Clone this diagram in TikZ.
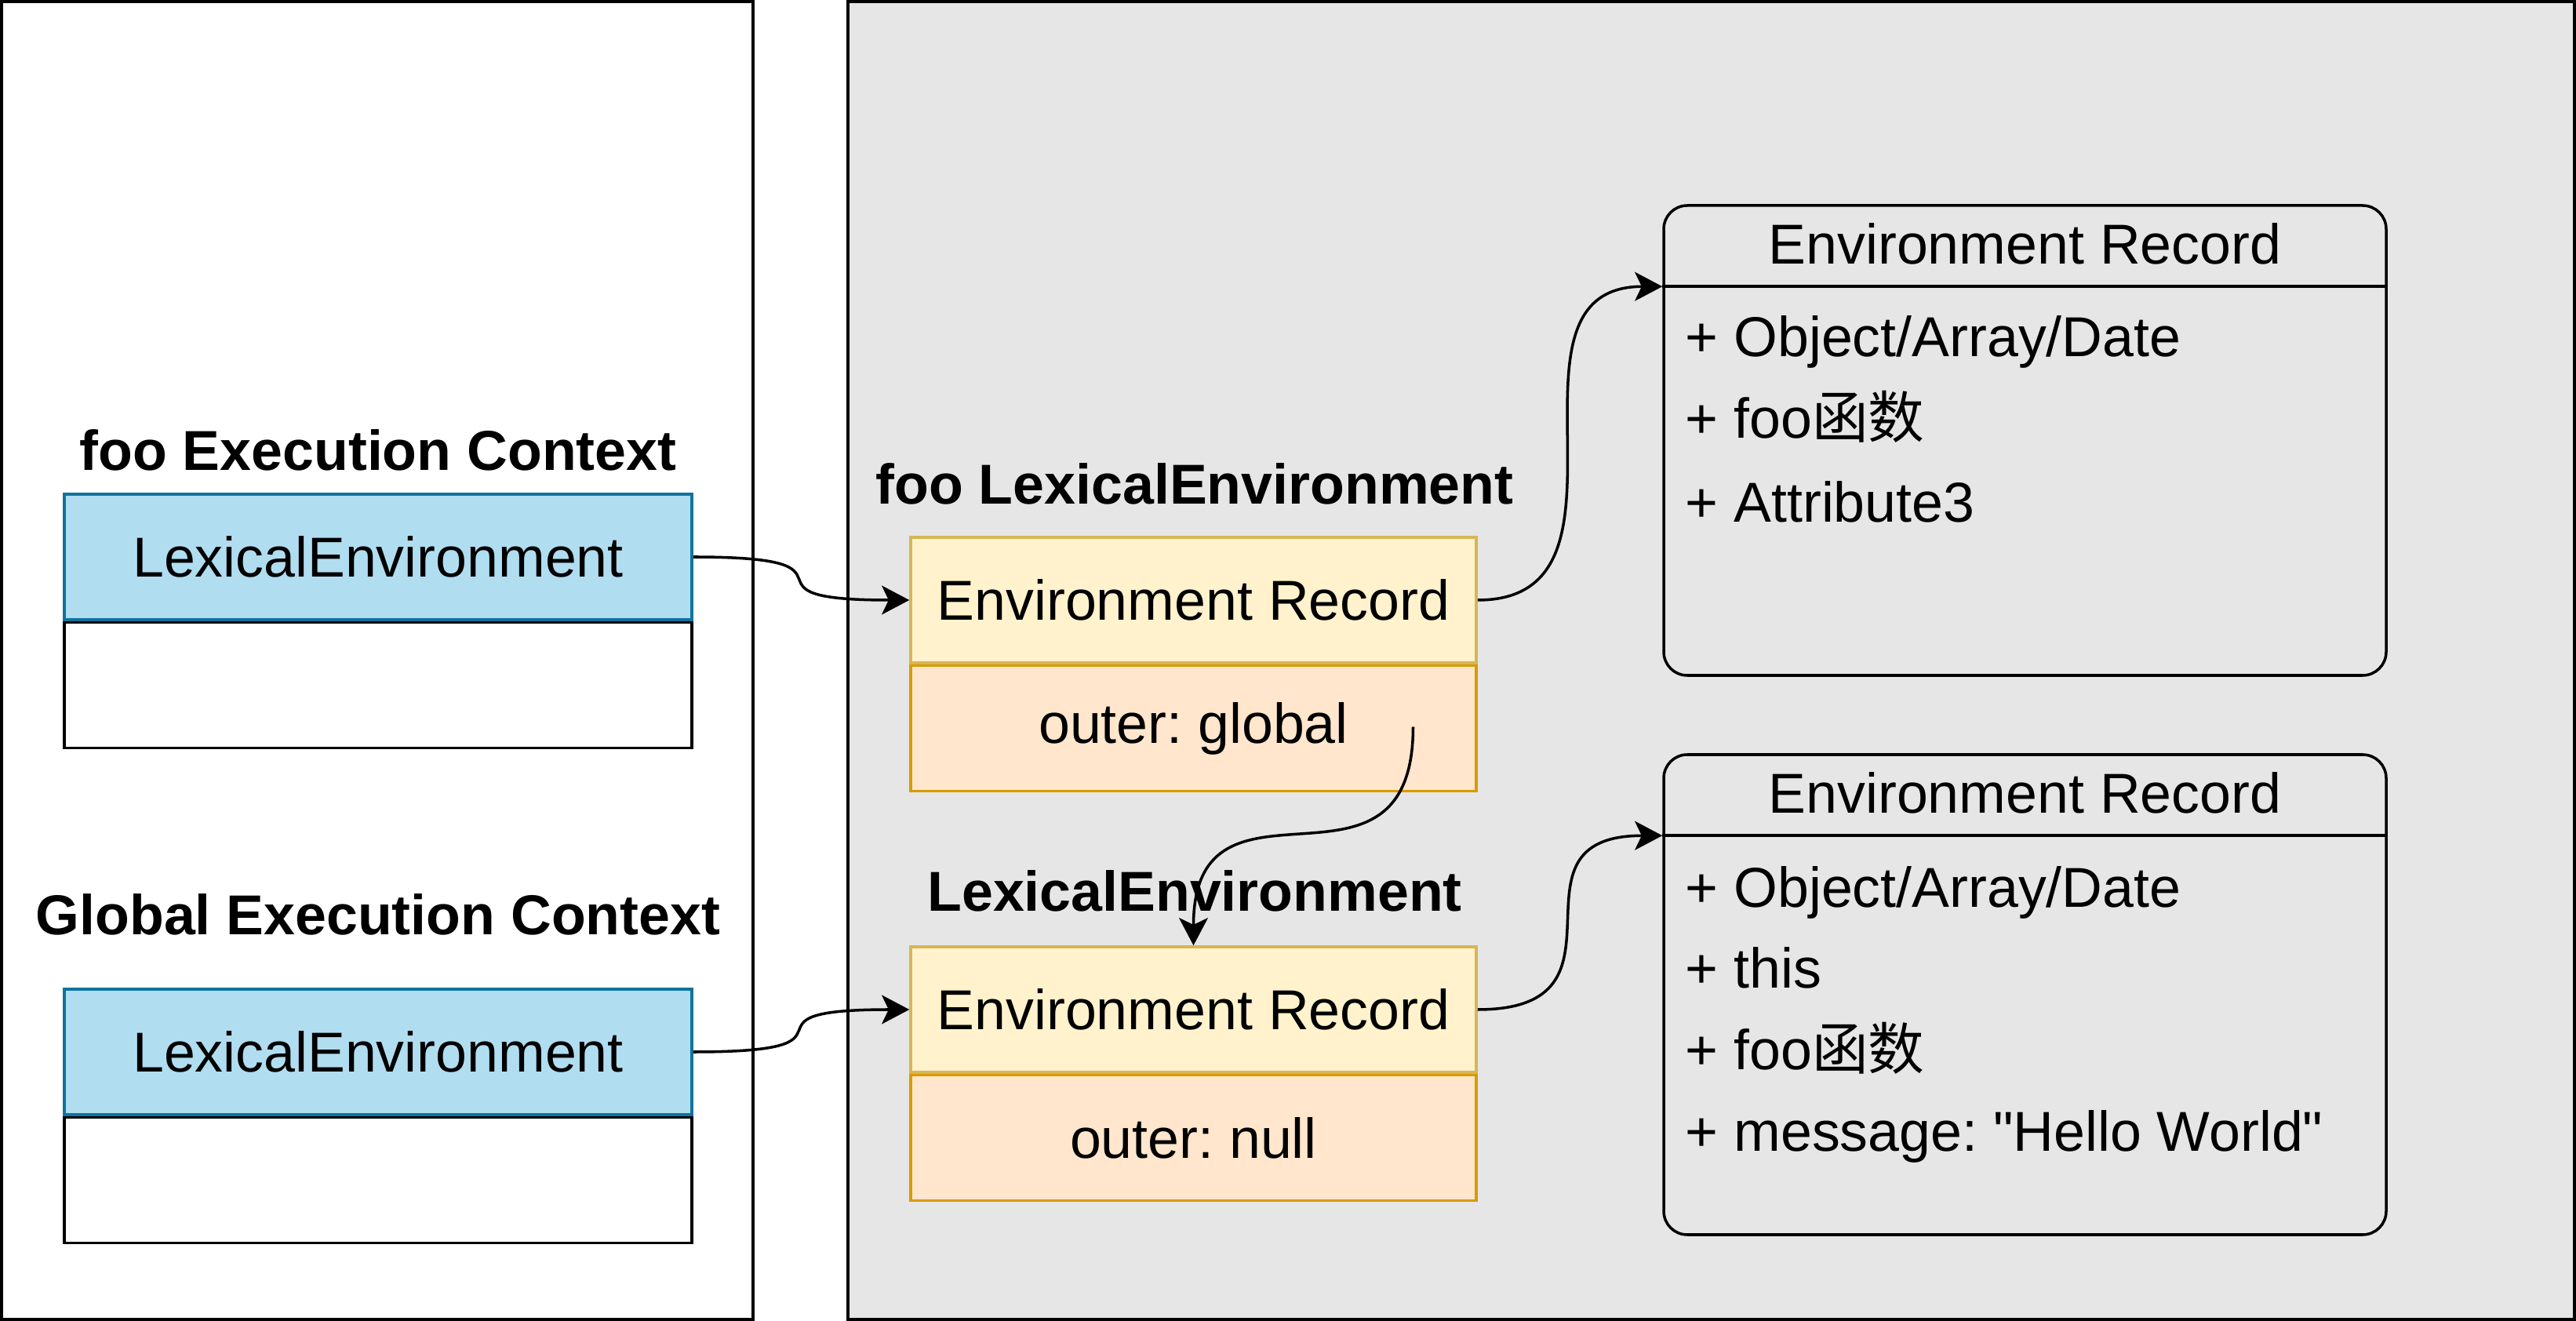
\documentclass[tikz,border=0pt]{standalone}
\usepackage{fontspec}
\setmainfont{Liberation Sans}
\newfontfamily\cjk{Noto Sans CJK SC}
\usepackage{tikz}
\usetikzlibrary{arrows.meta,positioning,calc}
\usepackage{xcolor}
\definecolor{lexblue}{HTML}{B1DDF0}
\definecolor{lexbluedraw}{HTML}{10739E}
\definecolor{recyellow}{HTML}{FFF2CC}
\definecolor{recyellowdraw}{HTML}{D6B656}
\definecolor{outerorange}{HTML}{FFE6CC}
\definecolor{outerorangedraw}{HTML}{D79B00}
\definecolor{panelgray}{HTML}{E6E6E6}
\frenchspacing

\begin{document}
\begin{tikzpicture}[
    >={Stealth[length=10pt, width=10.5pt, inset=2.5pt]},
    every node/.style={font=\fontsize{20.4}{24}\selectfont},
    panel/.style={draw, line width=1pt, inner sep=0pt, minimum height=16.8cm},
    box/.style={draw, line width=1pt, minimum width=8cm, minimum height=1.6cm, align=center, inner sep=0pt},
    lexbox/.style={box, fill=lexblue, draw=lexbluedraw},
    slotbox/.style={box, fill=white},
    recbox/.style={box, minimum width=7.21cm, fill=recyellow, draw=recyellowdraw},
    outerbox/.style={box, minimum width=7.21cm, fill=outerorange, draw=outerorangedraw},
    title/.style={font=\fontsize{20.4}{24}\selectfont\bfseries},
    umlbox/.style={draw, line width=1pt, rounded corners=0.3cm, minimum width=9.21cm, inner sep=0pt},
    field/.style={anchor=base west, inner sep=0pt},
    arrow/.style={->, line width=1pt}
]
\useasboundingbox (0,0) rectangle (32.84,-16.84);

% ---- Two panels ----
\node[panel, fill=white, minimum width=9.58cm] (ctxpanel) at (4.81,-8.42) {};
\node[panel, fill=panelgray, minimum width=22.01cm] (lexpanel) at (21.815,-8.42) {};

% ---- Execution contexts ----
\node[title] (fooctx) at (4.82,-5.74) {foo Execution Context};
\node[lexbox] (foolex) at (4.82,-7.10) {LexicalEnvironment};
\node[slotbox, below=0pt of foolex] (fooslot) {};

\node[title] (globalctx) at (4.82,-11.66) {Global Execution Context};
\node[lexbox] (globallex) at (4.82,-13.41) {LexicalEnvironment};
\node[slotbox, below=0pt of globallex] (globalslot) {};

% ---- Lexical environments ----
\node[title] (fooenv) at (15.23,-6.17) {foo LexicalEnvironment};
\node[recbox] (fooer) at (15.215,-7.65) {Environment Record};
\node[outerbox, below=0pt of fooer] (fooouter) {outer: global};

\node[title] (globalenv) at (15.23,-11.36) {LexicalEnvironment};
\node[recbox] (globaler) at (15.215,-12.87) {Environment Record};
\node[outerbox, below=0pt of globaler] (globalouter) {outer: null};

% ---- Environment records ----
\node[umlbox, minimum height=5.99cm] (foorec) at (25.815,-5.615) {};
\coordinate (foorecsep) at ($(foorec.north west)+(0,-1.05)$);
\draw[line width=1pt] (foorecsep) -- ($(foorec.north east)+(0,-1.05)$);
\node (foorechead) at ($(foorec.north)+(0,-0.51)$) {Environment Record};
\node[field] (foorecobj) at (21.48,-4.55) {+ Object/Array/Date};
\node[field] (foorecfn) at (21.48,-5.59) {+ foo{\cjk 函数}};
\node[field] (foorecattr) at (21.48,-6.66) {+ Attribute3};

\node[umlbox, minimum height=6.12cm] (globalrec) at (25.815,-12.68) {};
\coordinate (globalrecsep) at ($(globalrec.north west)+(0,-1.05)$);
\draw[line width=1pt] (globalrecsep) -- ($(globalrec.north east)+(0,-1.05)$);
\node (globalrechead) at ($(globalrec.north)+(0,-0.51)$) {Environment Record};
\node[field] (globalrecobj) at (21.48,-11.57) {+ Object/Array/Date};
\node[field] (globalrecthis) at (21.48,-12.60) {+ this};
\node[field] (globalrecfn) at (21.48,-13.64) {+ foo{\cjk 函数}};
\node[field] (globalrecmsg) at (21.48,-14.67) {+ message: \textquotedbl Hello World\textquotedbl};

% ---- Arrows ----
\draw[arrow] (foolex.east) to[out=0, in=180, looseness=2.2] (fooer.west);
\draw[arrow] (globallex.east) to[out=0, in=180, looseness=2.2] (globaler.west);
\draw[arrow] (fooer.east) to[out=0, in=180, looseness=1.25] (foorecsep);
\draw[arrow] (globaler.east) to[out=0, in=180, looseness=1.7] (globalrecsep);

% ---- Outer reference ----
\coordinate (outerfrom) at ($(fooouter.center)+(2.8,0.02)$);
\draw[arrow] (outerfrom) to[out=-90, in=90, looseness=1.6] (globaler.north);

\end{tikzpicture}
\end{document}
